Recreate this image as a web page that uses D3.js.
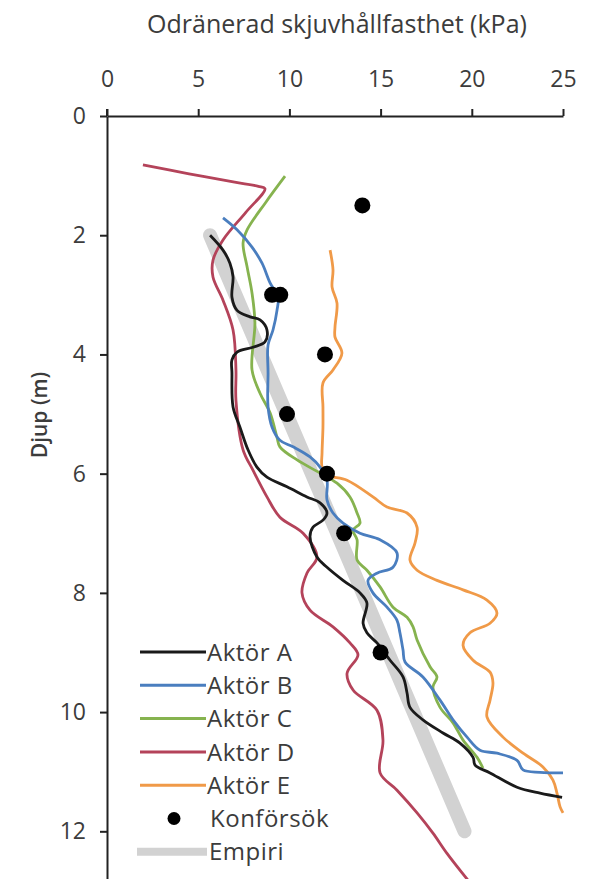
<!DOCTYPE html>
<html>
<head>
<meta charset="utf-8">
<script src="https://cdn.jsdelivr.net/npm/d3@7"></script>
<style>
  body { margin: 0; background: #fff; }
  svg text { font-family: "Open Sans", sans-serif; fill: #3c3c3c; }
</style>
</head>
<body>
<div id="chart"></div>
<script>
// each profile: [kPa, depth m]
const aktorA = [[5.65,2.0],[6.36,2.25],[6.74,2.47],[6.91,2.70],[6.85,3.04],[7.13,3.26],[7.84,3.37],[8.39,3.42],[8.77,3.59],[8.66,3.79],[8.0,3.88],[7.13,3.96],[6.85,4.09],[6.85,4.31],[6.91,4.88],[7.29,5.22],[7.73,5.60],[8.22,5.89],[8.77,6.06],[9.87,6.22],[10.96,6.39],[11.68,6.49],[12.06,6.66],[11.84,6.78],[11.29,6.90],[11.13,7.06],[11.51,7.40],[12.06,7.57],[12.94,7.79],[13.87,8.0],[14.25,8.17],[14.04,8.51],[14.25,8.67],[14.80,8.84],[15.52,9.13],[16.23,9.41],[16.45,9.68],[16.61,9.92],[17.32,10.13],[18.42,10.35],[19.35,10.52],[20.07,10.76],[20.18,10.89],[21.0,11.02],[22.48,11.26],[23.74,11.36],[24.95,11.43]];
const aktorB = [[6.36,1.71],[7.13,1.91],[7.95,2.20],[8.50,2.47],[8.94,2.80],[9.38,3.04],[9.32,3.26],[9.10,3.59],[8.83,3.84],[8.83,4.31],[8.83,4.88],[9.05,5.22],[9.48,5.44],[10.20,5.55],[11.13,5.72],[11.68,5.89],[12.06,6.11],[12.06,6.44],[12.39,6.66],[12.94,6.83],[13.87,7.0],[14.97,7.11],[15.90,7.33],[15.68,7.57],[14.80,7.67],[14.31,7.79],[14.58,8.0],[15.35,8.24],[15.90,8.46],[16.06,8.67],[16.23,8.96],[16.34,9.16],[17.32,9.41],[18.26,9.80],[18.97,10.13],[19.74,10.42],[20.45,10.64],[21.38,10.69],[22.48,10.81],[22.81,10.97],[23.74,11.01],[25.0,11.02]];
const aktorC = [[9.76,1.01],[8.7,1.45],[7.68,1.91],[7.46,2.13],[7.68,2.53],[7.95,2.97],[8.11,3.47],[7.95,4.26],[8.39,4.65],[8.94,4.98],[9.32,5.39],[9.48,5.55],[10.42,5.77],[11.68,5.99],[12.61,6.16],[13.32,6.39],[13.71,6.66],[13.87,6.83],[13.49,6.95],[13.71,7.11],[13.71,7.45],[14.25,7.62],[14.97,7.90],[15.68,8.24],[16.45,8.41],[16.78,8.57],[17.0,8.79],[17.71,9.24],[18.09,9.41],[17.87,9.58],[18.26,9.92],[18.97,10.18],[19.52,10.47],[20.29,10.76],[20.61,10.94]];
const aktorD = [[1.97,0.82],[4.5,0.97],[7.0,1.11],[8.3,1.18],[8.66,1.22],[7.6,1.62],[6.36,2.08],[5.81,2.42],[5.81,2.70],[6.36,3.09],[6.91,3.59],[7.07,4.26],[7.07,4.77],[7.46,5.60],[8.0,5.94],[8.77,6.39],[9.48,6.73],[10.75,7.0],[11.51,7.40],[10.96,7.67],[10.69,8.0],[11.13,8.29],[12.39,8.57],[13.32,8.84],[13.76,9.04],[13.16,9.35],[13.49,9.63],[14.80,9.97],[15.13,10.47],[14.97,11.02],[15.90,11.31],[17.0,11.69],[17.87,12.03],[18.64,12.37],[19.79,12.82]];
const aktorE = [[12.23,2.25],[12.39,2.58],[12.34,2.87],[12.61,3.14],[12.50,3.54],[12.50,3.71],[12.88,3.98],[12.39,4.26],[11.84,4.48],[11.84,4.88],[11.84,5.22],[11.79,5.65],[11.79,5.89],[12.06,6.02],[13.16,6.11],[14.58,6.39],[15.35,6.56],[16.45,6.66],[17.0,6.90],[16.89,7.16],[16.61,7.45],[17.0,7.62],[18.09,7.79],[19.52,7.95],[20.83,8.12],[21.38,8.34],[21.0,8.51],[19.90,8.67],[19.52,8.88],[20.07,9.13],[21.0,9.33],[21.16,9.51],[21.0,9.80],[20.83,10.08],[21.71,10.42],[22.81,10.69],[23.90,10.92],[24.45,11.14],[24.67,11.36],[24.84,11.59],[25.0,11.69]];
const konforsok = [[14.0,1.5],[9.05,3.0],[9.5,3.0],[11.95,4.0],[9.87,5.0],[12.06,6.0],[13.0,7.0],[15.0,9.0]];
const empiri = [[5.65,2.0],[19.6,12.0]];

const seriesNames = ["Aktör A","Aktör B","Aktör C","Aktör D","Aktör E"];
const seriesData = [aktorA, aktorB, aktorC, aktorD, aktorE];
const seriesColors = ["#1a1a1a","#4a7ebf","#86b34f","#b4435a","#f09a48"];
const xTicks = [0,5,10,15,20,25];
const yTicks = [0,2,4,6,8,10,12];

const svg = d3.select("#chart").append("svg")
    .attr("width", 590)
    .attr("height", 879);

const x = d3.scaleLinear().domain([0, 25]).range([107, 563]);
const y = d3.scaleLinear().domain([0, 12.8]).range([116, 879]);

// axes
const xAxis = svg.append("g")
    .attr("transform", "translate(0,116)")
    .call(d3.axisTop(x).tickValues(xTicks).tickSize(7).tickSizeOuter(0).tickPadding(22));
const yAxis = svg.append("g")
    .attr("transform", "translate(107,0)")
    .call(d3.axisLeft(y).tickValues(yTicks).tickSize(7).tickSizeOuter(0).tickPadding(14));

[xAxis, yAxis].forEach(function(ax) {
    ax.select(".domain").attr("stroke", "#222").attr("stroke-width", 2);
    ax.selectAll(".tick line").attr("stroke", "#222").attr("stroke-width", 2);
    ax.selectAll(".tick text")
        .attr("font-size", 23)
        .attr("font-family", "Open Sans, sans-serif")
        .attr("fill", "#3c3c3c");
});
// cross tick at origin
svg.append("line")
    .attr("x1", x(0)).attr("x2", x(0))
    .attr("y1", y(0) - 7).attr("y2", y(0))
    .attr("stroke", "#222").attr("stroke-width", 2);

svg.append("text")
    .attr("x", 337)
    .attr("y", 33)
    .attr("text-anchor", "middle")
    .attr("font-size", 25)
    .text("Odränerad skjuvhållfasthet (kPa)");

svg.append("text")
    .attr("transform", "translate(47,415) rotate(-90)")
    .attr("text-anchor", "middle")
    .attr("font-size", 21)
    .attr("font-weight", 600)
    .text("Djup (m)");

const line = d3.line()
    .x(d => x(d[0]))
    .y(d => y(d[1]))
    .curve(d3.curveCatmullRom.alpha(0.5));

// empirical trend underneath
svg.append("path")
    .attr("d", d3.line().x(d => x(d[0])).y(d => y(d[1]))(empiri))
    .attr("fill", "none")
    .attr("stroke", "#d2d2d2")
    .attr("stroke-width", 14)
    .attr("stroke-linecap", "round");

const drawOrder = [3, 4, 2, 1, 0];
drawOrder.forEach(function(i) {
    svg.append("path")
        .attr("d", line(seriesData[i]))
        .attr("fill", "none")
        .attr("stroke", seriesColors[i])
        .attr("stroke-width", 2.8)
        .attr("stroke-linejoin", "round");
});

svg.selectAll("circle.konf")
    .data(konforsok)
    .enter()
    .append("circle")
        .attr("class", "konf")
        .attr("cx", d => x(d[0]))
        .attr("cy", d => y(d[1]))
        .attr("r", 8)
        .attr("fill", "#000");

// legend
const legendY0 = 652, legendStep = 33.3;
seriesNames.forEach(function(name, i) {
    const ly = legendY0 + i * legendStep;
    svg.append("line")
        .attr("x1", 140).attr("x2", 206)
        .attr("y1", ly).attr("y2", ly)
        .attr("stroke", seriesColors[i])
        .attr("stroke-width", 3);
    svg.append("text")
        .attr("x", 207).attr("y", ly)
        .attr("dy", "0.36em")
        .attr("font-size", 24)
        .attr("letter-spacing", 0.5)
        .text(name);
});
const konfY = legendY0 + 5 * legendStep;
svg.append("circle")
    .attr("cx", 174).attr("cy", konfY).attr("r", 6.5).attr("fill", "#000");
svg.append("text")
    .attr("x", 210).attr("y", konfY).attr("dy", "0.36em")
    .attr("font-size", 24)
    .attr("letter-spacing", 0.5)
    .text("Konförsök");
const empY = legendY0 + 6 * legendStep;
svg.append("line")
    .attr("x1", 137).attr("x2", 207)
    .attr("y1", empY).attr("y2", empY)
    .attr("stroke", "#d2d2d2")
    .attr("stroke-width", 8);
svg.append("text")
    .attr("x", 209).attr("y", empY).attr("dy", "0.36em")
    .attr("font-size", 24)
    .attr("letter-spacing", 0.5)
    .text("Empiri");
</script>
</body>
</html>
